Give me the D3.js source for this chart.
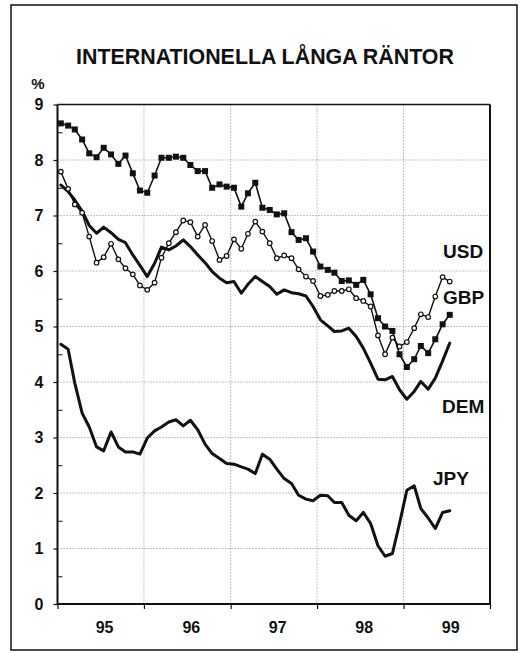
<!DOCTYPE html>
<html>
<head>
<meta charset="utf-8">
<script src="https://cdn.jsdelivr.net/npm/d3@7/dist/d3.min.js"></script>
<style>
  html, body { margin: 0; padding: 0; background: #fff; }
  svg { display: block; }
  text { font-family: "Liberation Sans", Arial, Helvetica, sans-serif; font-weight: bold; fill: #111; }
</style>
</head>
<body>
<svg id="chart" width="526" height="653"></svg>
<script>
// ---- Data (monthly, Jan 1995 - Jul 1999) ----
const startYear = 1995;
const title = "INTERNATIONELLA LÅNGA RÄNTOR";
const unitLabel = "%";
const yTicks = [0, 1, 2, 3, 4, 5, 6, 7, 8, 9];
const yearLabels = ["95", "96", "97", "98", "99"];
const seriesNames = ["USD", "GBP", "DEM", "JPY"];

const gbp = [8.66, 8.62, 8.55, 8.37, 8.12, 8.05, 8.22, 8.10, 7.93, 8.08,
             7.76, 7.45, 7.41, 7.72, 8.04, 8.04, 8.06, 8.04, 7.91, 7.80,
             7.80, 7.50, 7.56, 7.52, 7.50, 7.16, 7.40, 7.59, 7.14, 7.10,
             7.02, 7.04, 6.70, 6.56, 6.59, 6.35, 6.08, 6.02, 5.97, 5.82,
             5.83, 5.75, 5.84, 5.58, 5.15, 5.00, 4.92, 4.50, 4.27, 4.41,
             4.65, 4.52, 4.77, 5.04, 5.21];
const usd = [7.79, 7.48, 7.20, 7.05, 6.62, 6.15, 6.25, 6.49, 6.21, 6.05,
             5.94, 5.74, 5.66, 5.79, 6.24, 6.50, 6.70, 6.91, 6.88, 6.62,
             6.83, 6.54, 6.20, 6.27, 6.57, 6.40, 6.67, 6.89, 6.71, 6.50,
             6.23, 6.28, 6.23, 6.03, 5.90, 5.82, 5.55, 5.57, 5.64, 5.64,
             5.67, 5.51, 5.46, 5.36, 4.84, 4.50, 4.80, 4.64, 4.72, 4.97,
             5.22, 5.17, 5.54, 5.89, 5.81];
const dem = [7.55, 7.43, 7.28, 7.08, 6.82, 6.68, 6.79, 6.69, 6.57, 6.51,
             6.29, 6.10, 5.90, 6.14, 6.43, 6.38, 6.45, 6.56, 6.44, 6.29,
             6.15, 5.99, 5.87, 5.79, 5.81, 5.60, 5.76, 5.90, 5.81, 5.72,
             5.58, 5.66, 5.61, 5.59, 5.55, 5.36, 5.12, 5.01, 4.91, 4.92,
             4.97, 4.82, 4.61, 4.34, 4.05, 4.04, 4.10, 3.86, 3.69, 3.83,
             4.01, 3.87, 4.07, 4.38, 4.70];
const jpy = [4.68, 4.59, 3.98, 3.44, 3.19, 2.83, 2.76, 3.10, 2.83, 2.74,
             2.74, 2.70, 2.99, 3.12, 3.19, 3.28, 3.32, 3.21, 3.31, 3.14,
             2.88, 2.71, 2.62, 2.53, 2.52, 2.47, 2.43, 2.35, 2.70, 2.61,
             2.43, 2.26, 2.17, 1.96, 1.89, 1.86, 1.96, 1.95, 1.83, 1.83,
             1.60, 1.50, 1.65, 1.45, 1.05, 0.86, 0.91, 1.45, 2.05, 2.13,
             1.72, 1.55, 1.36, 1.65, 1.68];

// ---- Layout ----
const svg = d3.select("#chart");
const L = 57.5, R = 490, T = 104.5, B = 604;
const ink = "#111";

const x = d3.scaleTime()
  .domain([new Date(startYear, 0, 1), new Date(startYear + 5, 0, 1)])
  .range([L, R]);
const y = d3.scaleLinear().domain([0, 9]).range([B, T]);

const dateOf = i => new Date(startYear, i, 15);

// outer frame
svg.append("rect").attr("x", 11).attr("y", 5).attr("width", 506).attr("height", 645)
  .attr("fill", "none").attr("stroke", ink).attr("stroke-width", 1.5);

// title
svg.append("text").attr("x", 265).attr("y", 64).attr("text-anchor", "middle")
  .style("font-size", "21.4px").text(title);

// unit
svg.append("text").attr("x", 38).attr("y", 89).attr("text-anchor", "middle")
  .style("font-size", "15px").text(unitLabel);

// grid
const grid = svg.append("g").attr("stroke", "#888").attr("stroke-width", 1)
  .attr("stroke-dasharray", "1,2").attr("fill", "none");
yTicks.filter(v => v > 0 && v < 9).forEach(v => {
  grid.append("line").attr("x1", L).attr("x2", R).attr("y1", y(v)).attr("y2", y(v));
});
const yearStarts = d3.range(1, 5).map(k => new Date(startYear + k, 0, 1));
yearStarts.forEach(d => {
  grid.append("line").attr("x1", x(d)).attr("x2", x(d)).attr("y1", T).attr("y2", B);
});

// y axis (labels + outer ticks)
const yAxis = svg.append("g").attr("transform", `translate(${L},0)`)
  .call(d3.axisLeft(y).tickValues(yTicks).tickSize(4).tickPadding(10).tickFormat(d3.format("d")));
yAxis.select(".domain").remove();
yAxis.selectAll("line").attr("stroke", ink).attr("stroke-width", 1.2);
yAxis.selectAll("text").style("font-size", "16px").attr("fill", ink)
  .style("font-family", "'Liberation Sans', Arial, sans-serif").style("font-weight", "bold");

// minor inner ticks
const yMinor = svg.append("g").attr("transform", `translate(${L},0)`)
  .call(d3.axisRight(y).tickValues(d3.range(0.5, 9, 1)).tickSize(5).tickFormat(""));
yMinor.select(".domain").remove();
yMinor.selectAll("line").attr("stroke", ink).attr("stroke-width", 1);

// x axis ticks at year boundaries
const xAxis = svg.append("g").attr("transform", `translate(0,${B})`)
  .call(d3.axisBottom(x).tickValues(d3.range(0, 6).map(k => new Date(startYear + k, 0, 1)))
    .tickSize(5).tickFormat(""));
xAxis.select(".domain").remove();
xAxis.selectAll("line").attr("stroke", ink).attr("stroke-width", 1.2);

// x labels at mid-year
const xLab = svg.append("g").attr("transform", `translate(3.5,${B})`)
  .call(d3.axisBottom(x).tickValues(yearLabels.map((_, k) => new Date(startYear + k, 6, 2)))
    .tickSize(0).tickPadding(18).tickFormat((d, k) => yearLabels[k]));
xLab.select(".domain").remove();
xLab.selectAll("text").style("font-size", "16px").attr("fill", ink)
  .style("font-family", "'Liberation Sans', Arial, sans-serif").style("font-weight", "bold");

// plot frame
svg.append("line").attr("x1", L).attr("x2", R).attr("y1", T).attr("y2", T).attr("stroke", ink).attr("stroke-width", 1.5);
svg.append("line").attr("x1", R).attr("x2", R).attr("y1", T).attr("y2", B).attr("stroke", ink).attr("stroke-width", 2);
svg.append("line").attr("x1", L).attr("x2", L).attr("y1", T).attr("y2", B + 1).attr("stroke", ink).attr("stroke-width", 2);
svg.append("line").attr("x1", L).attr("x2", R).attr("y1", B).attr("y2", B).attr("stroke", ink).attr("stroke-width", 2);

// lines
const line = d3.line().x((d, i) => x(dateOf(i))).y(d => y(d));
const plot = svg.append("g").attr("fill", "none").attr("stroke", ink)
  .attr("stroke-linejoin", "round").attr("stroke-linecap", "round");

plot.append("path").attr("d", line(jpy)).attr("stroke-width", 3);
plot.append("path").attr("d", line(dem)).attr("stroke-width", 3);
plot.append("path").attr("d", line(usd)).attr("stroke-width", 1.4);
plot.append("path").attr("d", line(gbp)).attr("stroke-width", 1.6);

// markers
svg.append("g").selectAll("rect").data(gbp).join("rect")
  .attr("x", (d, i) => x(dateOf(i)) - 3).attr("y", d => y(d) - 3)
  .attr("width", 6).attr("height", 6).attr("fill", ink);
svg.append("g").selectAll("circle").data(usd).join("circle")
  .attr("cx", (d, i) => x(dateOf(i))).attr("cy", d => y(d)).attr("r", 2.3)
  .attr("fill", "#fff").attr("stroke", ink).attr("stroke-width", 1.2);

// series labels
const labelPos = [[443, 258], [443, 304], [442, 413], [433, 485]];
seriesNames.forEach((n, k) => {
  svg.append("text").attr("x", labelPos[k][0]).attr("y", labelPos[k][1])
    .style("font-size", "19px").text(n);
});
</script>
</body>
</html>
